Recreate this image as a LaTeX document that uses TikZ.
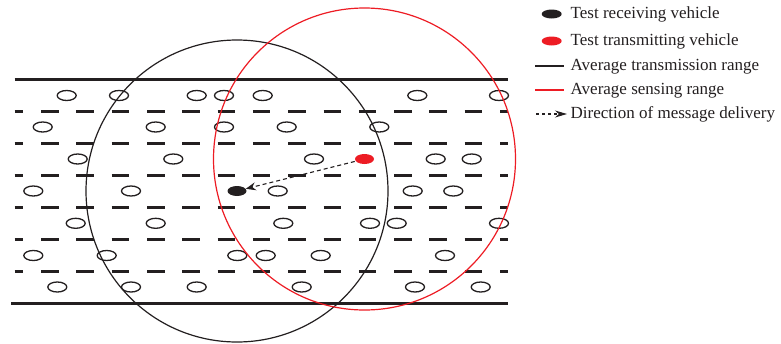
\documentclass[tikz,border=0pt]{standalone}
\usepackage{fontspec}
\setmainfont{Liberation Serif}
\usepackage{xcolor}
\usetikzlibrary{arrows.meta,shapes.geometric,positioning}
\definecolor{txred}{HTML}{ED1C24}
\definecolor{ink}{HTML}{231F20}

\begin{document}
\begin{tikzpicture}[x=1pt, y=-1pt, >=Stealth, font=\fontsize{17}{19}\selectfont]
  \tikzset{car/.style={draw=ink, ellipse, line width=1.3pt, minimum width=19pt, minimum height=10pt, inner sep=0pt},
           dot/.style={ellipse, minimum width=19pt, minimum height=10pt, inner sep=0pt},
           road/.style={draw=ink, line width=3pt},
           lane/.style={draw=ink, line width=3pt, dash pattern=on 17.5pt off 17.8pt, dash phase=8.9pt},
           lbl/.style={anchor=base west, inner sep=0pt, text=ink}}
  \useasboundingbox (0,0) rectangle (781,343);
  % road edges and lane markings
  \draw[road] (14.7,79.3) -- (508,79.3);
  \draw[road] (11,303.5) -- (508,303.5);
  \foreach \ly in {111.3,143.3,175.3,207.3,239.3,271.3}
    \draw[lane] (14.7,\ly) -- (508.3,\ly);
  % other vehicles
  \foreach \cx/\cy [count=\i] in {66.7/95.5,119/95.5,196.7/95.5,224/95.5,262.7/95.5,417.3/95.5,499/95.5,
      42.7/127,155.7/127,224/127,286.7/127,379.3/127,
      77.7/159,173.3/159,314/159,435.7/159,471.7/159,
      33.3/191,131/191,277.7/191,412.7/191,453.3/191,
      75.7/223.3,155.7/223.3,283.3/223.3,370/223.3,396.7/223.3,499/223.3,
      33.3/255.5,106.7/255.5,237.3/255.5,265.7/255.5,320.7/255.5,445/255.5,
      57.3/287,131/287,196.7/287,301.7/287,415/287,480.7/287}
    \node[car] (v\i) at (\cx,\cy) {};
  % test vehicles and their ranges
  \node[dot, fill=ink] (rx) at (237,191) {};
  \node[dot, fill=txred] (tx) at (364.5,159) {};
  \draw[ink, line width=1.2pt] (rx) circle[radius=151];
  \draw[txred, line width=1.2pt] (tx) circle[radius=151];
  \draw[-{Stealth[length=10pt, width=8pt]}, ink, line width=1.1pt, dash pattern=on 4pt off 3pt, shorten <=1pt] (tx) -- (rx);
  % legend
  \node[dot, fill=ink, minimum width=20pt, minimum height=9pt] (k1) at (551.7,14) {};
  \node[lbl] (t1) at (570.5,18.5) {Test receiving vehicle};
  \node[dot, fill=txred, minimum width=20pt, minimum height=9pt] (k2) at (551.7,41) {};
  \node[lbl] (t2) at (570.5,45.5) {Test transmitting vehicle};
  \coordinate (k3a) at (535,66);
  \coordinate (k3b) at (564,66);
  \draw[ink, line width=1.2pt] (k3a) -- (k3b);
  \node[lbl] (t3) at (570.5,70.5) {Average transmission range};
  \coordinate (k4a) at (535,90);
  \coordinate (k4b) at (564,90);
  \draw[txred, line width=1.2pt] (k4a) -- (k4b);
  \node[lbl] (t4) at (570.5,94.5) {Average sensing range};
  \coordinate (k5a) at (536,114);
  \coordinate (k5b) at (567,114);
  \draw[-{Stealth[length=12pt, width=7pt]}, ink, line width=1.1pt, dash pattern=on 3pt off 3pt] (k5a) -- (k5b);
  \node[lbl] (t5) at (570.5,118.5) {Direction of message delivery};
\end{tikzpicture}
\end{document}
